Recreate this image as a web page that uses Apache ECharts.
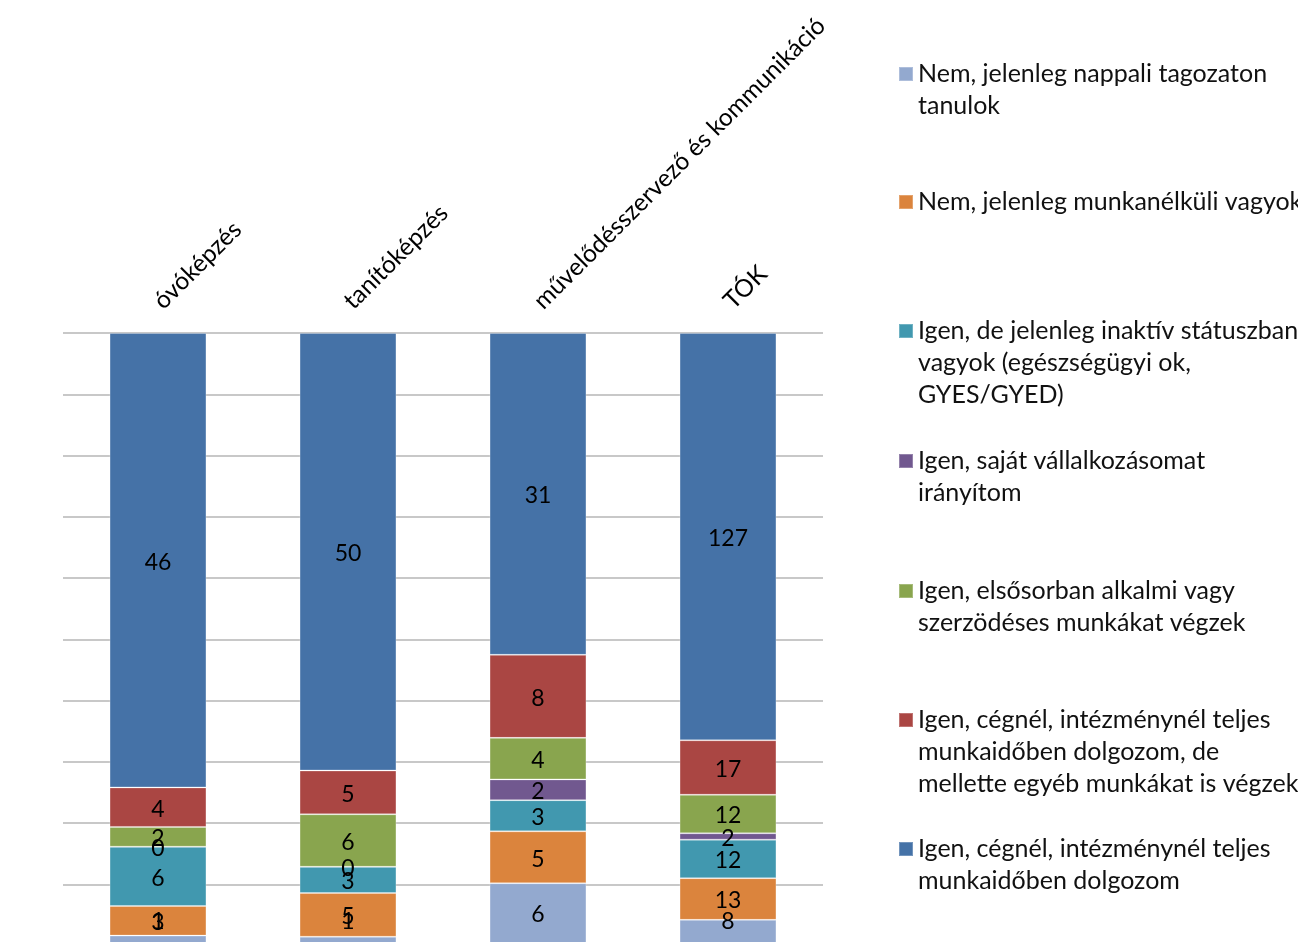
<!DOCTYPE html>
<html>
<head>
<meta charset="utf-8">
<script src="https://cdn.jsdelivr.net/npm/echarts@6/dist/echarts.min.js"></script>
<style>
html,body{margin:0;padding:0;background:#fff;}
#chart{width:1298px;height:942px;}
</style>
</head>
<body>
<div id="chart"></div>
<script>
// ---- data ----
const categories = ['óvóképzés', 'tanítóképzés', 'művelődésszervező és kommunikáció', 'TÓK'];
const seriesNames = [
  'Nem, jelenleg nappali tagozaton tanulok',
  'Nem, jelenleg munkanélküli vagyok',
  'Igen, de jelenleg inaktív státuszban vagyok (egészségügyi ok, GYES/GYED)',
  'Igen, saját vállalkozásomat irányítom',
  'Igen, elsősorban alkalmi vagy szerzödéses munkákat végzek',
  'Igen, cégnél, intézménynél teljes munkaidőben dolgozom, de mellette egyéb munkákat is végzek',
  'Igen, cégnél, intézménynél teljes munkaidőben dolgozom'
];
const legendLines = [
  ['Nem, jelenleg nappali tagozaton', 'tanulok'],
  ['Nem, jelenleg munkanélküli vagyok'],
  ['Igen, de jelenleg inaktív státuszban', 'vagyok (egészségügyi ok,', 'GYES/GYED)'],
  ['Igen, saját vállalkozásomat', 'irányítom'],
  ['Igen, elsősorban alkalmi vagy', 'szerzödéses munkákat végzek'],
  ['Igen, cégnél, intézménynél teljes', 'munkaidőben dolgozom, de', 'mellette egyéb munkákat is végzek'],
  ['Igen, cégnél, intézménynél teljes', 'munkaidőben dolgozom']
];
const nappali      = [1, 1, 6, 8];
const munkanelkuli = [3, 5, 5, 13];
const inaktiv      = [6, 3, 3, 12];
const vallalkozo   = [0, 0, 2, 2];
const alkalmi      = [2, 6, 4, 12];
const teljesEgyeb  = [4, 5, 8, 17];
const teljes       = [46, 50, 31, 127];
const seriesValues = [nappali, munkanelkuli, inaktiv, vallalkozo, alkalmi, teljesEgyeb, teljes];

// ---- styling ----
const colors = ['#93A9CF', '#DB843D', '#4198AF', '#71588F', '#89A54E', '#AA4643', '#4572A7'];
const FONT = 'Lato';
const legendFirstLineY = [74, 202, 331, 461, 591, 720, 849];
const LH = 32;

const totals = categories.map((c, i) => seriesValues.reduce((s, arr) => s + arr[i], 0));

const series = seriesValues.map((vals, si) => {
  const s = {
    name: seriesNames[si],
    type: 'bar',
    stack: 'total',
    barWidth: '51%',
    itemStyle: { color: colors[si], borderColor: 'rgba(255,255,255,0.25)', borderWidth: 1 },
    label: {
      show: true,
      position: 'inside',
      offset: [0, 2],
      color: '#000',
      fontFamily: FONT,
      fontSize: 23,
      formatter: p => String(vals[p.dataIndex])
    },
    data: vals.map((v, i) => v / totals[i] * 100)
  };
  if (si === 0) {
    s.labelLayout = function (params) {
      const r = params.labelRect;
      const cy = r.y + r.height / 2;
      return { dy: Math.min(0, 924 - cy) };
    };
  }
  return s;
});

const legends = seriesNames.map((name, si) => {
  const n = legendLines[si].length;
  const pad = new Array(n - 1).fill(' ');
  return {
    data: [name],
    orient: 'vertical',
    left: 898,
    top: legendFirstLineY[si] - (2 * n - 1) * LH / 2,
    padding: 0,
    itemWidth: 14,
    itemHeight: 14,
    icon: 'rect',
    selectedMode: false,
    formatter: () => pad.concat(legendLines[si]).join('\n'),
    textStyle: {
      fontFamily: FONT,
      fontSize: 25,
      color: '#111',
      lineHeight: LH
    }
  };
});

const chart = echarts.init(document.getElementById('chart'), null, { renderer: 'canvas' });
chart.setOption({
  animation: false,
  color: colors,
  legend: legends,
  grid: { left: 63, top: 333, width: 760, height: 612.5, containLabel: false, outerBoundsMode: 'none' },
  xAxis: {
    type: 'category',
    position: 'top',
    data: categories,
    axisLine: { show: true, lineStyle: { color: '#868686', width: 2 } },
    axisTick: { show: false },
    axisLabel: { rotate: 45, margin: 28, interval: 0, color: '#000', fontFamily: FONT, fontSize: 24.5 }
  },
  yAxis: {
    type: 'value',
    min: 0,
    max: 100,
    interval: 10,
    axisLabel: { show: false },
    axisLine: { show: false },
    axisTick: { show: false },
    splitLine: { show: true, lineStyle: { color: '#C8C8C8', width: 2 } }
  },
  series: series
});
</script>
</body>
</html>
